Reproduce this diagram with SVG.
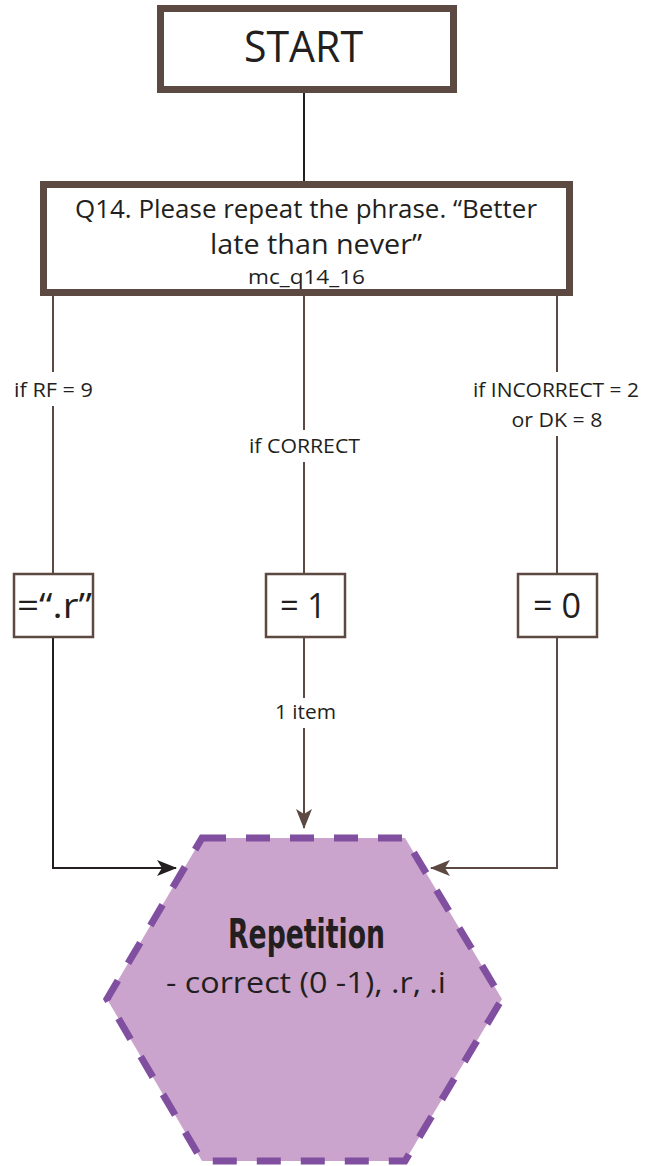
<svg xmlns="http://www.w3.org/2000/svg" width="645" height="1166" viewBox="0 0 645 1166">
<defs>
<style>
.box{fill:#fff;stroke:#5c4a42;stroke-width:7}
.sbox{fill:#fff;stroke:#5c4a42;stroke-width:2.5}
.ln{fill:none;stroke:#5c4a42;stroke-width:2}
.lnk{fill:none;stroke:#231f20;stroke-width:2}
.t{font-family:"Open Sans","Liberation Sans",sans-serif;fill:#231f20;text-anchor:middle}
.lbl{font-family:"Open Sans","Liberation Sans",sans-serif;fill:#231f20;text-anchor:middle;font-size:20px}
</style>
<marker id="ab" viewBox="0 0 20 16" refX="19" refY="8" markerWidth="20" markerHeight="16" markerUnits="userSpaceOnUse" orient="auto">
<path d="M0,0 L20,8 L0,16 L5,8 Z" fill="#5c4a42"/>
</marker>
<marker id="ak" viewBox="0 0 20 16" refX="19" refY="8" markerWidth="20" markerHeight="16" markerUnits="userSpaceOnUse" orient="auto">
<path d="M0,0 L20,8 L0,16 L5,8 Z" fill="#231f20"/>
</marker>
</defs>
<g id="connectors">
<line class="lnk" x1="304" y1="93" x2="304" y2="181"/>
<line class="ln" x1="53" y1="296" x2="53" y2="372"/>
<line class="ln" x1="53" y1="406" x2="53" y2="573"/>
<line class="ln" x1="304" y1="296" x2="304" y2="430"/>
<line class="ln" x1="304" y1="462" x2="304" y2="573"/>
<line class="ln" x1="557" y1="296" x2="557" y2="372"/>
<line class="ln" x1="557" y1="436" x2="557" y2="573"/>
<polyline class="lnk" points="53,637 53,868 176,868" marker-end="url(#ak)"/>
<line class="ln" x1="304" y1="637" x2="304" y2="698"/>
<line class="ln" x1="304" y1="728" x2="304" y2="828" marker-end="url(#ab)"/>
<polyline class="ln" points="557,637 557,868 431,868" marker-end="url(#ab)"/>
<text class="lbl" x="53.5" y="397" textLength="79" lengthAdjust="spacingAndGlyphs">if RF = 9</text>
<text class="lbl" x="304.5" y="453" textLength="111" lengthAdjust="spacingAndGlyphs">if CORRECT</text>
<text class="lbl" x="556" y="397" textLength="166" lengthAdjust="spacingAndGlyphs">if INCORRECT = 2</text>
<text class="lbl" x="557" y="427" textLength="91" lengthAdjust="spacingAndGlyphs">or DK = 8</text>
<text class="lbl" x="305.5" y="719" textLength="61" lengthAdjust="spacingAndGlyphs">1 item</text>
</g>
<g id="start">
<rect class="box" x="160.5" y="8.5" width="293" height="81"/>
<text class="t" x="303.5" y="62" font-size="44" textLength="119" lengthAdjust="spacingAndGlyphs">START</text>
</g>
<g id="q14">
<rect class="box" x="43.5" y="184.5" width="526" height="108"/>
<text class="t" x="306" y="218" font-size="26" textLength="462" lengthAdjust="spacingAndGlyphs">Q14. Please repeat the phrase. “Better</text>
<text class="t" x="316" y="254" font-size="27" textLength="212" lengthAdjust="spacingAndGlyphs">late than never”</text>
<text class="t" x="306.5" y="284" font-size="20" textLength="117" lengthAdjust="spacingAndGlyphs">mc_q14_16</text>
</g>
<g id="r">
<rect class="sbox" x="14" y="574" width="79" height="63"/>
<text class="t" x="54.5" y="618" font-size="34" textLength="75" lengthAdjust="spacingAndGlyphs">=“.r”</text>
</g>
<g id="one">
<rect class="sbox" x="266" y="574" width="79" height="63"/>
<text class="t" x="303" y="618" font-size="34" textLength="46" lengthAdjust="spacingAndGlyphs">= 1</text>
</g>
<g id="zero">
<rect class="sbox" x="518" y="574" width="79" height="63"/>
<text class="t" x="557" y="618" font-size="34" textLength="48" lengthAdjust="spacingAndGlyphs">= 0</text>
</g>
<g id="repetition">
<polygon points="202,838 405,838 502,999 405,1161 202,1161 107,999" fill="#caa4cc" stroke="#814fa0" stroke-width="7" stroke-dasharray="24,20"/>
<text x="306.5" y="948" text-anchor="middle" font-family="'Liberation Sans Narrow','DejaVu Sans Condensed',sans-serif" font-weight="bold" font-size="40" fill="#231f20" textLength="157" lengthAdjust="spacingAndGlyphs">Repetition</text>
<text class="t" x="306" y="993" font-size="29" textLength="280" lengthAdjust="spacingAndGlyphs">- correct (0 -1), .r, .i</text>
</g>
</svg>
